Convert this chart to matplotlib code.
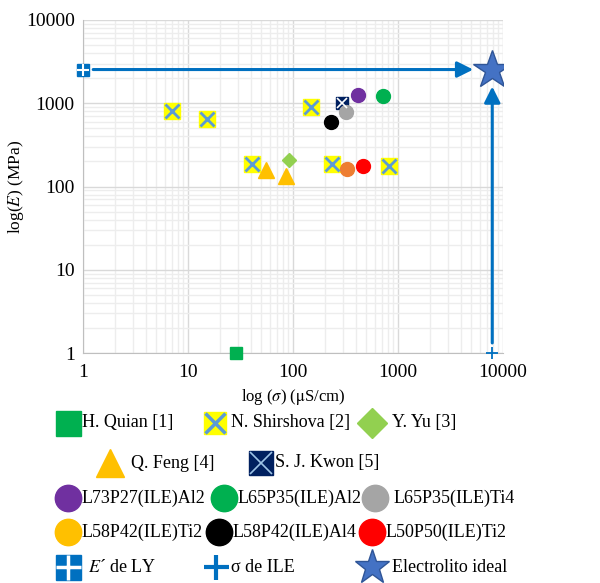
import matplotlib
matplotlib.use('Agg')
import matplotlib.pyplot as plt
from matplotlib.ticker import FixedLocator, FuncFormatter, LogLocator

plt.rcParams['font.family'] = ['Liberation Serif', 'DejaVu Serif']
plt.rcParams['mathtext.fontset'] = 'stix'

# Datos (sigma en uS/cm, E en MPa)
quian_x = [28.5]
quian_y = [1]
shirshova_x = [7.1, 15.3, 41, 150, 233, 815]
shirshova_y = [815, 655, 188, 910, 188, 178]
yu_x = [92]
yu_y = [210]
feng_x = [55.5, 86.7]
feng_y = [159, 132]
kwon_x = [290]
kwon_y = [1000]
l73p27_al2 = [413, 1250]
l65p35_al2 = [720, 1215]
l65p35_ti4 = [322, 795]
l58p42_ti2 = [329, 163]
l58p42_al4 = [232, 597]
l50p50_ti2 = [460, 178]
ly_E = 2540       # E' de LY
ile_sigma = 7900  # sigma de ILE
ideal = [7900, 2540]
arrow_h = [[1.25, 2540], [5200, 2540]]
arrow_v = [[7900, 1.32], [7900, 1590]]

blue = '#0070C0'
xcol = '#5B9BD5'

fig = plt.figure(figsize=(6, 5.83), dpi=100)
ax = fig.add_axes([83/600, 1 - 353/583, 420/600, 333/583])
ax.set_xscale('log')
ax.set_yscale('log')
ax.set_xlim(1, 10000)
ax.set_ylim(1, 10000)

fmt = FuncFormatter(lambda v, p: '%d' % round(v))
ax.xaxis.set_major_locator(FixedLocator([1, 10, 100, 1000, 10000]))
ax.yaxis.set_major_locator(FixedLocator([1, 10, 100, 1000, 10000]))
ax.xaxis.set_major_formatter(fmt)
ax.yaxis.set_major_formatter(fmt)
ax.xaxis.set_minor_locator(LogLocator(base=10, subs=range(2, 10)))
ax.yaxis.set_minor_locator(LogLocator(base=10, subs=range(2, 10)))
ax.tick_params(which='both', length=0, labelsize=14)
ax.tick_params(axis='x', pad=8)
ax.tick_params(axis='y', pad=6)
ax.grid(True, which='major', color='#D9D9D9', lw=1)
ax.grid(True, which='minor', color='#EDEDED', lw=1)
ax.set_axisbelow(True)
for s in ['top', 'right']:
    ax.spines[s].set_visible(False)
for s in ['left', 'bottom']:
    ax.spines[s].set_color('#BFBFBF')

ax.set_xlabel(r'log ($\sigma$) ($\mathrm{\mu}$S/cm)', fontsize=12, labelpad=4)
ax.set_ylabel(r'log($E$) (MPa)', fontsize=12.5)
ax.yaxis.set_label_coords(-0.135, 0.5)

# Flechas
ax.annotate('', xy=arrow_h[1], xytext=arrow_h[0],
            arrowprops=dict(arrowstyle='-|>', color=blue, lw=2.2, mutation_scale=24,
                            shrinkA=0, shrinkB=0))
ax.annotate('', xy=arrow_v[1], xytext=arrow_v[0],
            arrowprops=dict(arrowstyle='-|>', color=blue, lw=2.2, mutation_scale=24,
                            shrinkA=0, shrinkB=0))

# Puntos
ax.plot(quian_x, quian_y, 's', color='#00B050', ms=8, mec='#00B050', clip_on=False, zorder=5)
ax.plot(shirshova_x, shirshova_y, 's', color='#FFFF00', ms=11, mec='#FFFF00', zorder=5)
ax.plot(shirshova_x, shirshova_y, 'x', color=xcol, ms=10, mew=2, zorder=6)
ax.plot(yu_x, yu_y, 'D', color='#92D050', ms=7, zorder=5)
ax.plot(feng_x, feng_y, '^', color='#FFC000', ms=12, zorder=5)
ax.plot(kwon_x, kwon_y, 's', color='#002060', ms=9, zorder=5)
ax.plot(kwon_x, kwon_y, 'x', color='white', ms=7, mew=1.2, zorder=6)
ax.plot(*l73p27_al2, 'o', color='#7030A0', ms=10, zorder=5)
ax.plot(*l65p35_al2, 'o', color='#00B050', ms=10, zorder=5)
ax.plot(*l65p35_ti4, 'o', color='#A5A5A5', ms=10, zorder=5)
ax.plot(*l58p42_ti2, 'o', color='#ED7D31', ms=10, zorder=5)
ax.plot(*l58p42_al4, 'o', color='black', ms=10, zorder=5)
ax.plot(*l50p50_ti2, 'o', color='#FF0000', ms=10, zorder=5)
ax.plot([1], [ly_E], 's', color=blue, ms=8, clip_on=False, zorder=5)
ax.plot([1], [ly_E], '+', color='white', ms=8, mew=1.5, clip_on=False, zorder=6)
ax.plot([ile_sigma], [1], '+', color=blue, ms=9, mew=1.3, clip_on=False, zorder=5)
ax.plot([ideal[0]], [ideal[1]], '*', color='#4472C4', mec='#2F5597', ms=29, zorder=7)

# Leyenda (dibujada en coordenadas de pixel)
lg = fig.add_axes([0, 0, 1, 1])
lg.set_xlim(0, 600)
lg.set_ylim(583, 0)
lg.axis('off')
lg.patch.set_alpha(0)


def entry(xh, y, label, styles, xt=None):
    for st in styles:
        lg.plot([xh], [y], **st)
    lg.text(xh + 14 if xt is None else xt, y, label, fontsize=13, va='center', ha='left')


sq = lambda c, ms=18: dict(marker='s', color=c, ms=ms, ls='none')
circ = lambda c: dict(marker='o', color=c, ms=19, ls='none')

rows = [423, 463, 498, 532, 567]
entry(68, rows[0], 'H. Quian [1]', [sq('#00B050')])
entry(215, rows[0], 'N. Shirshova [2]', [sq('#FFFF00', 16),
                                          dict(marker='x', color=xcol, ms=15, mew=2.5, ls='none')], xt=231)
entry(372, rows[0], 'Y. Yu [3]', [dict(marker='D', color='#92D050', ms=15, ls='none')], xt=392)

entry(110, rows[1], 'Q. Feng [4]', [dict(marker='^', color='#FFC000', ms=20, ls='none')], xt=131)
entry(261, rows[1], 'S. J. Kwon [5]', [sq('#002060', 17),
                                       dict(marker='x', color='#9DC3E6', ms=16, mew=1.2, ls='none')], xt=275)

entry(68, rows[2], 'L73P27(ILE)Al2', [circ('#7030A0')])
entry(224, rows[2], 'L65P35(ILE)Al2', [circ('#00B050')], xt=238)
entry(375, rows[2], 'L65P35(ILE)Ti4', [circ('#A5A5A5')], xt=394)

entry(68, rows[3], 'L58P42(ILE)Ti2', [circ('#FFC000')])
entry(219, rows[3], 'L58P42(ILE)Al4', [circ('black')], xt=233)
entry(372, rows[3], 'L50P50(ILE)Ti2', [circ('#FF0000')], xt=386)

entry(68, rows[4], '$E$\u00b4 de LY', [sq(blue), dict(marker='+', color='white', ms=18, mew=2.5, ls='none')], xt=88)
entry(216, rows[4], '\u03c3 de ILE', [dict(marker='+', color=blue, ms=18, mew=3, ls='none')], xt=231)
entry(372, rows[4], 'Electrolito ideal', [dict(marker='*', color='#4472C4', mec='#2F5597', ms=26, ls='none')], xt=392)

fig.savefig('out.png', dpi=100)
